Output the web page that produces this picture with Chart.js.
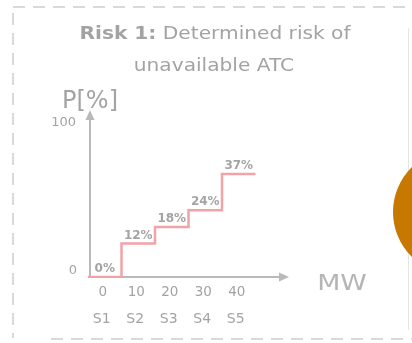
<!DOCTYPE html>
<html>
<head>
<meta charset="utf-8">
<script src="https://cdn.jsdelivr.net/npm/chart.js@4.4.1/dist/chart.umd.min.js"></script>
<style>
  html, body { margin: 0; padding: 0; background: #ffffff; }
  #wrap { width: 412px; height: 343px; position: relative; }
</style>
</head>
<body>
<div id="wrap"><canvas id="c" width="412" height="343"></canvas></div>
<script>
// Scenario steps, installed capacity and the risk level of each step
const scenarios = ['S1', 'S2', 'S3', 'S4', 'S5'];
const capacityMW = ['0', '10', '20', '30', '40'];
const riskPct = [0, 12, 18, 24, 37];
const yEndLabels = ['0', '100'];

const FONT = '"DejaVu Sans", Verdana, sans-serif';
const TEXT = '#a3a3a3';
const AXIS = '#b9b9b9';
const STEP = '#f2a3a8';

// Each scenario occupies one unit wide segment centred on its index
const stepPoints = riskPct.map((v, i) => ({ x: i - 0.5, y: v }));
stepPoints.push({ x: riskPct.length - 0.5, y: riskPct[riskPct.length - 1] });

// draw text with a horizontal stretch (wide geometric lettering)
function wideText(ctx, parts, cx, y, stretch) {
  const widths = parts.map(p => { ctx.font = p.font; return ctx.measureText(p.text).width; });
  const total = widths.reduce((a, b) => a + b, 0) * stretch;
  ctx.save();
  ctx.translate(cx - total / 2, y);
  ctx.scale(stretch, 1);
  ctx.textAlign = 'left';
  let x = 0;
  parts.forEach((p, i) => { ctx.font = p.font; ctx.fillText(p.text, x, 0); x += widths[i]; });
  ctx.restore();
}

const decor = {
  id: 'decor',
  beforeDatasetsDraw(chart) {
    const ctx = chart.ctx;
    const xs = chart.scales.x, ys = chart.scales.y;
    const area = chart.chartArea;
    ctx.save();

    // dashed frame
    ctx.strokeStyle = '#cdcdcd';
    ctx.lineWidth = 1.5;
    ctx.setLineDash([12, 8]);
    ctx.beginPath();
    ctx.moveTo(13, 7); ctx.lineTo(412, 7);
    ctx.moveTo(13, 13); ctx.lineTo(13, 338);
    ctx.moveTo(51, 339); ctx.lineTo(412, 339);
    ctx.stroke();
    ctx.setLineDash([]);

    // thin divider on the right
    ctx.strokeStyle = '#e6e6e6';
    ctx.lineWidth = 1;
    ctx.beginPath();
    ctx.moveTo(408.5, 28); ctx.lineTo(408.5, 330);
    ctx.stroke();

    // orange disc at the right edge
    ctx.fillStyle = '#c77800';
    ctx.beginPath();
    ctx.arc(456, 212, 63, 0, Math.PI * 2);
    ctx.fill();

    // title: bold lead-in followed by regular text
    ctx.fillStyle = TEXT;
    ctx.textBaseline = 'alphabetic';
    wideText(ctx, [
      { text: 'Risk 1:', font: 'bold 18px ' + FONT },
      { text: ' Determined risk of', font: '18px ' + FONT }
    ], 215, 39, 1.12);
    wideText(ctx, [{ text: 'unavailable ATC', font: '18px ' + FONT }], 214, 71, 1.12);

    // axis titles
    ctx.textAlign = 'left';
    ctx.font = '24px ' + FONT;
    ctx.fillText('P[%]', 62, 108);
    ctx.fillStyle = '#b5b5b5';
    wideText(ctx, [{ text: 'MW', font: '22px ' + FONT }], 342, 290, 1.22);

    // y end labels
    ctx.fillStyle = TEXT;
    ctx.font = '13px ' + FONT;
    ctx.textAlign = 'right';
    ctx.textBaseline = 'middle';
    ctx.fillText(yEndLabels[0], 77, ys.getPixelForValue(0) - 6);
    ctx.fillText(yEndLabels[1], 76, area.top + 13);

    // x tick labels: capacity on the first row, scenario on the second
    ctx.textAlign = 'center';
    capacityMW.forEach((t, i) => {
      ctx.font = '13.5px ' + FONT;
      ctx.fillText(t, xs.getPixelForValue(i) - 2, 292);
      ctx.font = '14px ' + FONT;
      ctx.fillText(scenarios[i], xs.getPixelForValue(i) - 3, 319);
    });

    // axes with arrow heads
    const ox = area.left + 2, oy = ys.getPixelForValue(0);
    ctx.strokeStyle = AXIS;
    ctx.fillStyle = AXIS;
    ctx.lineWidth = 2;
    ctx.beginPath();
    ctx.moveTo(ox, oy); ctx.lineTo(ox, area.top + 8);
    ctx.moveTo(area.left, oy); ctx.lineTo(area.right - 8, oy);
    ctx.stroke();
    ctx.beginPath();
    ctx.moveTo(ox, area.top); ctx.lineTo(ox - 4.5, area.top + 10); ctx.lineTo(ox + 4.5, area.top + 10);
    ctx.closePath(); ctx.fill();
    ctx.beginPath();
    ctx.moveTo(area.right, oy); ctx.lineTo(area.right - 10, oy - 4.5); ctx.lineTo(area.right - 10, oy + 4.5);
    ctx.closePath(); ctx.fill();

    ctx.restore();
  },
  afterDatasetsDraw(chart) {
    // value labels above each step
    const ctx = chart.ctx;
    const xs = chart.scales.x, ys = chart.scales.y;
    ctx.save();
    ctx.fillStyle = '#a4a4a4';
    ctx.font = 'bold 12px ' + FONT;
    ctx.textAlign = 'center';
    ctx.textBaseline = 'alphabetic';
    riskPct.forEach((v, i) => {
      ctx.fillText(v + '%', xs.getPixelForValue(i), ys.getPixelForValue(v) - 5);
    });
    ctx.restore();
  }
};

new Chart(document.getElementById('c'), {
  type: 'line',
  data: {
    datasets: [{
      data: stepPoints,
      stepped: true,
      borderColor: STEP,
      borderWidth: 2.5,
      pointRadius: 0,
      fill: false
    }]
  },
  options: {
    responsive: false,
    animation: false,
    layout: { padding: { left: 88, right: 123, top: 110, bottom: 66 } },
    plugins: { legend: { display: false }, tooltip: { enabled: false }, title: { display: false } },
    scales: {
      x: { type: 'linear', min: -0.5, max: 5.5, display: false },
      y: { type: 'linear', min: 0, max: 60, display: false }
    }
  },
  plugins: [decor]
});
</script>
</body>
</html>
